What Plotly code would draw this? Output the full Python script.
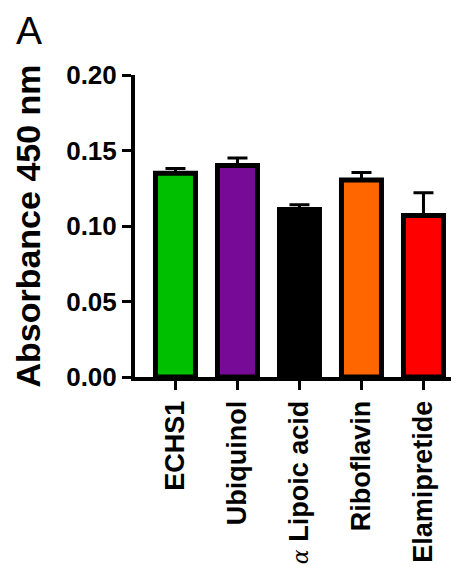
import plotly.graph_objects as go

categories = ["ECHS1", "Ubiquinol", "α Lipoic acid", "Riboflavin", "Elamipretide"]
tick_labels = [
    "ECHS1",
    "Ubiquinol",
    "<span style='font-family:DejaVu Serif;font-weight:normal;font-style:italic;font-size:22px'>α</span> Lipoic acid",
    "Riboflavin",
    "Elamipretide",
]
means = [0.135, 0.140, 0.111, 0.1305, 0.107]
sem_up = [0.003, 0.005, 0.003, 0.005, 0.015]
colors = ["#00BF00", "#770A96", "#000000", "#FF6600", "#FF0000"]
y_ticks = [0.00, 0.05, 0.10, 0.15, 0.20]
y_tick_text = ["0.00", "0.05", "0.10", "0.15", "0.20"]

# page body has an 8px default margin: figure is sized/offset to compensate
fig = go.Figure()
fig.add_trace(go.Bar(
    x=list(range(len(categories))),
    y=means,
    width=0.645,
    marker=dict(color=colors, line=dict(color="black", width=5)),
    error_y=dict(type="data", symmetric=False, array=sem_up,
                 arrayminus=[0] * len(sem_up), color="black",
                 thickness=3, width=10),
    hovertext=categories,
))

fig.update_layout(
    width=451, height=559,
    margin=dict(l=127, r=0, t=67, b=190),
    paper_bgcolor="white", plot_bgcolor="white",
    showlegend=False,
    font=dict(family="Arial, Liberation Sans", color="black"),
    xaxis=dict(
        range=[-0.653, 4.573],
        tickmode="array", tickvals=list(range(len(categories))), ticktext=tick_labels,
        tickangle=-90, automargin=False,
        tickfont=dict(size=27, weight="bold", family="Arial, Liberation Sans"),
        showline=True, linecolor="black", linewidth=4,
        ticks="outside", ticklen=9, tickwidth=3, tickcolor="black",
        showgrid=False, zeroline=False,
    ),
    yaxis=dict(
        range=[0, 0.2], automargin=False,
        tickmode="array", tickvals=y_ticks, ticktext=y_tick_text,
        tickfont=dict(size=26, weight="bold", family="Arial, Liberation Sans"),
        showline=True, linecolor="black", linewidth=4,
        ticks="outside", ticklen=9, tickwidth=3, tickcolor="black",
        showgrid=False, zeroline=False,
        title=dict(text="Absorbance 450 nm", standoff=16,
                   font=dict(size=34, weight="bold", family="Arial, Liberation Sans")),
    ),
    annotations=[dict(
        text="A", xref="paper", yref="paper",
        x=(29 - 135) / 324, y=1 + 67 / 302,
        xanchor="center", yanchor="top", showarrow=False, borderpad=0,
        font=dict(size=39, family="Arial, Liberation Sans", color="black"),
    )],
)

fig.write_html("out.html")
